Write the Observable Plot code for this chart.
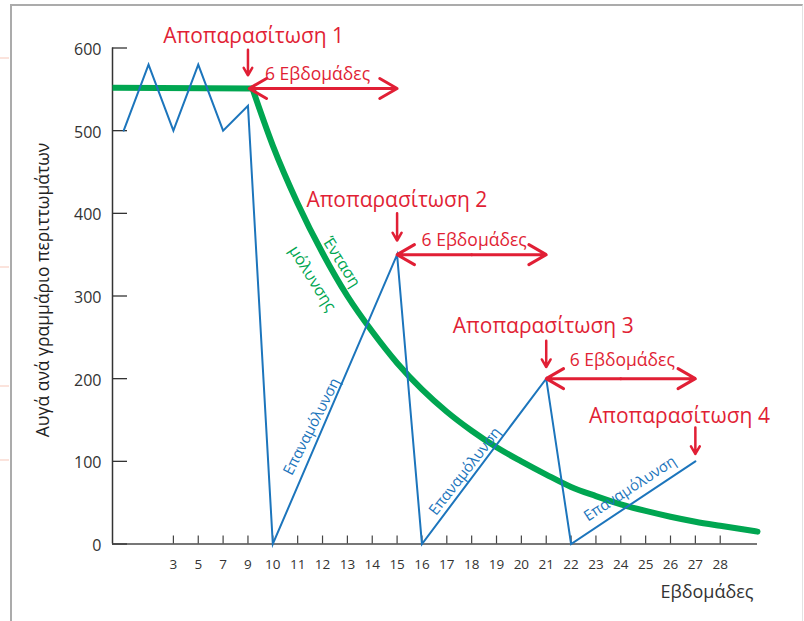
<!DOCTYPE html>
<html>
<head>
<meta charset="utf-8">
<script src="https://cdn.jsdelivr.net/npm/d3@7"></script>
<script src="https://cdn.jsdelivr.net/npm/@observablehq/plot@0.6"></script>
<style>
  html, body { margin: 0; padding: 0; background: #fff; }
  #wrap { position: relative; width: 804px; height: 621px; overflow: hidden; }
  #frame { position: absolute; left: 10px; top: 4px; width: 790px; height: 700px;
           border-left: 2px solid #ababab; border-top: 2px solid #ababab; border-right: 1px solid #e2e2e2; }
  .pink { position: absolute; left: 0; width: 9px; height: 2px; background: #fbe3dc; }
  #chart { position: absolute; left: 0; top: 0; }
</style>
</head>
<body>
<div id="wrap">
  <div id="frame"></div>
  <div class="pink" style="top:57px"></div>
  <div class="pink" style="top:266px"></div>
  <div class="pink" style="top:385px"></div>
  <div class="pink" style="top:459px"></div>
  <div id="chart"></div>
</div>
<script>
// ---- data ----
const yTicks = [0, 100, 200, 300, 400, 500, 600];
const weekLabels = ["3","5","7","9","10","11","12","13","14","15","16","17","18","19","20","21","22","23","24","25","26","27","28"];
const weekSlots = weekLabels.map((_, i) => i + 2);   // slot index along axis

// blue: eggs per gram (reinfection pattern)
const reinfSlots = [0, 1, 2, 3, 4, 5, 6, 11, 12, 17, 18, 23];
const reinfEggs  = [500, 580, 500, 580, 500, 530, 0, 350, 0, 200, 0, 100];

// green: infection intensity
const plateauSlots = [-0.45, 5.18];
const plateauEggs  = [552, 551];
const declineSlots = [5.18, 6, 7, 8, 9, 10, 11, 12, 13, 14, 15, 16, 17, 18, 19, 20, 21, 22, 23, 24, 25.5];
const declineEggs  = [551, 482, 412, 352, 300, 257, 219, 187, 160, 137, 117, 100, 84, 69, 58, 48, 40, 33, 27, 22, 15];

// deworming annotations
const dewormLabels = ["Αποπαρασίτωση 1", "Αποπαρασίτωση 2", "Αποπαρασίτωση 3", "Αποπαρασίτωση 4"];
const dewormSlots  = [5, 11, 17, 23];
const arrowTop     = [598, 400, 246, 141];
const arrowTip     = [567, 367, 214, 109];
const labelSlots   = [5.23, 10.99, 16.88, 22.36];
const labelLevels  = [606, 408, 255, 146];

// six-week spans
const spanLabel  = "6 Εβδομάδες";
const spanStart  = [5.05, 11, 17];
const spanEnd    = [11, 17, 23];
const spanLevel  = [551, 350, 200];
const spanLabelSlots  = [7.8, 14.1, 20.06];
const spanLabelLevels = [561, 361, 215];

// curve labels
const intensityWords  = ["Ένταση", "μόλυνσης"];
const intensitySlots  = [8.76, 7.59];
const intensityLevels = [341, 321];
const reinfLabel  = "Επαναμόλυνση";
const reinfLabelSlots  = [7.56, 13.73, 20.37];
const reinfLabelLevels = [142, 88, 67];
const reinfLabelAngles = [-63, -52, -33];

const yTitle = "Αυγά ανά γραμμάριο περιττωμάτων";
const xTitle = "Εβδομάδες";

// ---- build tables ----
const blue = reinfSlots.map((s, i) => ({s, v: reinfEggs[i]}));
const plateau = plateauSlots.map((s, i) => ({s, v: plateauEggs[i]}));
const decline = declineSlots.map((s, i) => ({s, v: declineEggs[i]}));
const deworm = dewormLabels.map((t, i) => ({t, s: dewormSlots[i], top: arrowTop[i], tip: arrowTip[i], ls: labelSlots[i], lv: labelLevels[i]}));
const spans = spanStart.map((a, i) => ({a, b: spanEnd[i], v: spanLevel[i], m: (a + spanEnd[i]) / 2, ls: spanLabelSlots[i], lv: spanLabelLevels[i]}));
const intensity = intensityWords.map((t, i) => ({t, s: intensitySlots[i], v: intensityLevels[i]}));
const reinfTexts = reinfLabelSlots.map((s, i) => ({s, v: reinfLabelLevels[i], a: reinfLabelAngles[i]}));
const weeks = weekLabels.map((t, i) => ({t, s: weekSlots[i]}));

const RED = "#e11f35", GREEN = "#00a651", BLUE = "#1c75bc";
const xDomain = [-0.45, 25.5];

const chart = Plot.plot({
  width: 804,
  height: 621,
  marginLeft: 112,
  marginRight: 47,
  marginTop: 47.5,
  marginBottom: 77.5,
  x: {domain: xDomain, axis: null},
  y: {domain: [0, 600], axis: null},
  style: {fontFamily: "'Open Sans', 'Noto Sans', sans-serif", background: "transparent", overflow: "visible"},
  marks: [
    // axes
    Plot.ruleY([0], {stroke: "#777", strokeWidth: 2}),
    Plot.ruleX([xDomain[0]], {stroke: "#333", strokeWidth: 1.5}),
    Plot.tickY(yTicks, {y: d => d, stroke: "#333", strokeWidth: 1.3, insetRight: 645 - 15}),
    Plot.tickX(weekSlots, {x: d => d, stroke: "#444", strokeWidth: 1.2, insetTop: 496 - 8}),
    Plot.text(yTicks, {x: xDomain[0], y: d => d, text: d => String(d), dx: -11, dy: 2, textAnchor: "end", fontSize: 16, fill: "#333"}),
    Plot.text(weeks, {x: "s", y: 0, text: "t", dy: 25, lineAnchor: "bottom", fontSize: 13.5, fill: "#333"}),
    Plot.text([yTitle], {frameAnchor: "left", text: d => d, rotate: -90, dx: -69, dy: -6, textAnchor: "middle", lineAnchor: "middle", fontSize: 17.5, fill: "#222"}),
    Plot.text([xTitle], {frameAnchor: "bottom-right", text: d => d, dx: -4, dy: 54, lineAnchor: "bottom", textAnchor: "end", fontSize: 18, fill: "#333"}),

    // green intensity curve
    Plot.line(plateau, {x: "s", y: "v", stroke: GREEN, strokeWidth: 6, strokeLinecap: "butt"}),
    Plot.line(decline, {x: "s", y: "v", stroke: GREEN, strokeWidth: 6, curve: "monotone-x", strokeLinecap: "round"}),

    // blue reinfection line
    Plot.line(blue, {x: "s", y: "v", stroke: BLUE, strokeWidth: 2, strokeLinejoin: "miter", strokeMiterlimit: 10}),

    // red deworming annotations
    Plot.arrow(deworm, {x1: "s", x2: "s", y1: "top", y2: "tip", stroke: RED, strokeWidth: 2.5, headLength: 10}),
    Plot.text(deworm, {x: "ls", y: "lv", text: "t", lineAnchor: "bottom", fontSize: 21, fill: RED}),
    Plot.arrow(spans, {x1: "m", x2: "a", y1: "v", y2: "v", stroke: RED, strokeWidth: 3, headLength: 10}),
    Plot.arrow(spans, {x1: "m", x2: "b", y1: "v", y2: "v", stroke: RED, strokeWidth: 3, headLength: 10}),
    Plot.text(spans, {x: "ls", y: "lv", text: () => spanLabel, lineAnchor: "bottom", fontSize: 17.5, fill: RED}),

    // curve labels
    Plot.text(intensity, {x: "s", y: "v", text: "t", rotate: 58, fontSize: 16, fill: GREEN}),
    Plot.text(reinfTexts, {x: "s", y: "v", text: () => reinfLabel, rotate: "a", fontSize: 15, fill: BLUE})
  ]
});
document.getElementById("chart").appendChild(chart);
</script>
</body>
</html>
